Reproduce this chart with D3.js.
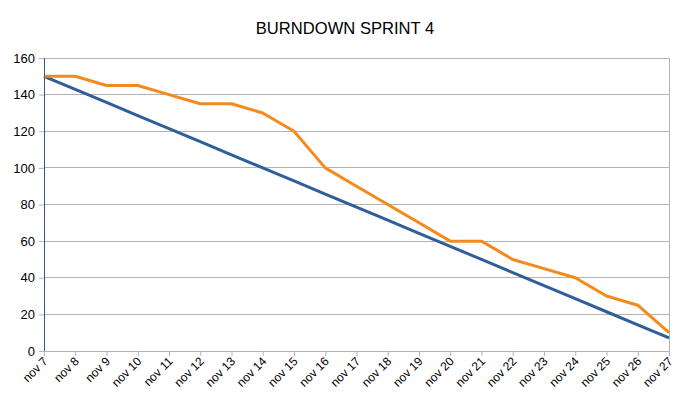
<!DOCTYPE html>
<html><head><meta charset="utf-8">
<script src="https://cdn.jsdelivr.net/npm/d3@7"></script>
<style>body{margin:0;background:#fff}svg{display:block}</style>
</head><body>
<script>
const days = ["nov 7","nov 8","nov 9","nov 10","nov 11","nov 12","nov 13","nov 14","nov 15","nov 16","nov 17","nov 18","nov 19","nov 20","nov 21","nov 22","nov 23","nov 24","nov 25","nov 26","nov 27"];
const ideal = [150,142.86,135.71,128.57,121.43,114.29,107.14,100,92.86,85.71,78.57,71.43,64.29,57.14,50,42.86,35.71,28.57,21.43,14.29,7.14];
const actual = [150,150,145,145,140,135,135,130,120,100,90,80,70,60,60,50,45,40,30,25,10];
const yTicks = [0,20,40,60,80,100,120,140,160];
const title = "BURNDOWN SPRINT 4";

const W=689,H=408, L=44, R=669, T=58, B=351;
const svg=d3.select("body").append("svg").attr("width",W).attr("height",H);
const x=d3.scalePoint().domain(days).range([L,R]);
const y=d3.scaleLinear().domain([0,160]).range([B,T]);

svg.append("text").attr("x",345).attr("y",34).attr("text-anchor","middle")
  .style("font-family","Liberation Sans, Arial, sans-serif").style("font-size","16.6px").attr("fill","#000").text(title);

// grid
svg.append("g").selectAll("line").data(yTicks.filter(d=>d>0)).join("line")
  .attr("x1",L).attr("x2",R).attr("y1",d=>y(d)).attr("y2",d=>y(d))
  .attr("stroke","#b3b3b3").attr("stroke-width",1).attr("shape-rendering","crispEdges");
svg.append("line").attr("x1",R).attr("x2",R).attr("y1",T).attr("y2",B)
  .attr("stroke","#b3b3b3").attr("shape-rendering","crispEdges");

// axes
const yAxis=svg.append("g").attr("transform",`translate(${L},0)`)
  .call(d3.axisLeft(y).tickValues(yTicks).tickSize(5).tickPadding(4).tickFormat(d3.format("d")));
yAxis.select(".domain").attr("stroke","#b3b3b3").attr("shape-rendering","crispEdges");
yAxis.selectAll(".tick line").attr("stroke","#b3b3b3");
yAxis.selectAll("text").style("font-family","Liberation Sans, Arial, sans-serif").style("font-size","13px").attr("fill","#000");

const xAxis=svg.append("g").attr("transform",`translate(0,${B})`)
  .call(d3.axisBottom(x).tickSize(5).tickSizeOuter(0));
xAxis.select(".domain").attr("stroke","#b3b3b3").attr("shape-rendering","crispEdges");
xAxis.selectAll(".tick line").attr("stroke","#b3b3b3");
xAxis.selectAll("text").style("font-family","Liberation Sans, Arial, sans-serif").style("font-size","12px").attr("fill","#000")
  .attr("text-anchor","end").attr("dy","0").attr("y",0)
  .attr("transform","translate(4,11) rotate(-45)");

// lines
const line=d3.line().x((d,i)=>x(days[i])).y(d=>y(d));
svg.append("path").datum(ideal).attr("d",line).attr("fill","none").attr("stroke","#2f5f99").attr("stroke-width",3).attr("stroke-linejoin","round");
svg.append("path").datum(actual).attr("d",line).attr("fill","none").attr("stroke","#f58a1c").attr("stroke-width",3).attr("stroke-linejoin","round");
// y axis line drawn on top
svg.append("line").attr("x1",L).attr("x2",L).attr("y1",T).attr("y2",B).attr("stroke","#3a5680").attr("stroke-width",1).attr("shape-rendering","crispEdges");
</script>
</body></html>
